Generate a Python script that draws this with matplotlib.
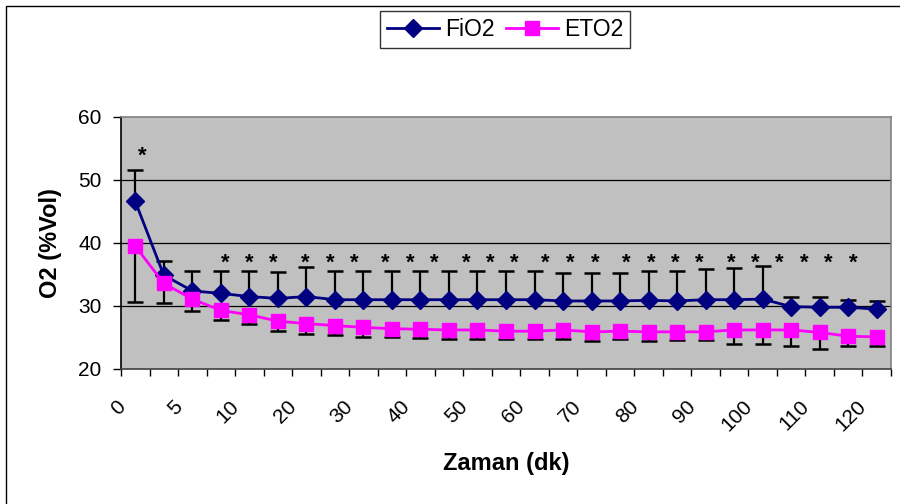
import matplotlib
matplotlib.use("Agg")
import matplotlib.pyplot as plt
from matplotlib.patches import Rectangle
import numpy as np

plt.rcParams['font.family'] = ['Liberation Sans', 'DejaVu Sans']

# x categories (minutes); only every second one gets a label in the chart
times = ["0", "2", "5", "7", "10", "15", "20", "25", "30", "35", "40", "45", "50", "55",
         "60", "65", "70", "75", "80", "85", "90", "95", "100", "105", "110", "115", "120"]

# FiO2 mean and SD (SD drawn upward only)
fio2 = [46.6, 34.9, 32.4, 32.0, 31.5, 31.2, 31.5, 31.0, 31.0, 31.0, 31.0, 31.0, 31.0, 31.0,
        31.0, 30.8, 30.8, 30.8, 30.9, 30.8, 31.0, 31.0, 31.1, 29.9, 29.8, 29.8, 29.5]
fio2_sd = [5.0, 2.3, 3.2, 3.6, 4.0, 4.2, 4.7, 4.5, 4.5, 4.5, 4.6, 4.6, 4.5, 4.6,
           4.6, 4.4, 4.5, 4.5, 4.7, 4.8, 4.8, 5.1, 5.2, 1.6, 1.6, 1.2, 1.3]

# ETO2 mean and SD (SD drawn downward only)
eto2 = [39.5, 33.6, 31.1, 29.3, 28.6, 27.6, 27.2, 26.9, 26.6, 26.4, 26.3, 26.2, 26.2, 26.0,
        26.0, 26.2, 25.9, 26.0, 25.9, 25.9, 25.9, 26.2, 26.2, 26.2, 25.8, 25.2, 25.1]
eto2_sd = [8.9, 3.2, 1.9, 1.6, 1.5, 1.5, 1.7, 1.5, 1.5, 1.4, 1.4, 1.5, 1.5, 1.3,
           1.3, 1.5, 1.4, 1.3, 1.4, 1.3, 1.3, 2.3, 2.3, 2.6, 2.7, 1.5, 1.4]

# significance marks (typed text boxes in the original, not aligned to categories)
star_x = [0.23, 3.15, 3.99, 4.83, 5.96, 6.83, 7.68, 8.76, 9.64, 10.48, 11.61, 12.45, 13.29,
          14.38, 15.25, 16.13, 17.22, 18.1, 18.94, 19.78, 20.9, 21.75, 22.6, 23.46, 24.3, 25.18]
star_y = [54.7] + [37.7] * 25

x = np.arange(len(times))
fio2 = np.array(fio2)
eto2 = np.array(eto2)

fig = plt.figure(figsize=(9, 5.04), dpi=100)
ax = fig.add_axes([121/900, 1 - 369/504, 770/900, 252/504])
ax.set_facecolor('#C0C0C0')

# outer chart border (left and top visible)
fig.patches.append(Rectangle((5.5/900, -0.2), 1.5, 1.2 - 5.5/504, transform=fig.transFigure,
                             fill=False, edgecolor='black', linewidth=1.0))

for v in [30, 40, 50]:
    ax.axhline(v, color='black', linewidth=0.9, zorder=1)

# error bars
top = fio2 + np.array(fio2_sd)
bot = eto2 - np.array(eto2_sd)
ax.vlines(x, fio2, top, color='black', linewidth=1.6, zorder=2)
ax.plot(x, top, linestyle='none', marker='_', markersize=11, markeredgewidth=1.8, color='black', zorder=2)
ax.vlines(x, bot, eto2, color='black', linewidth=1.6, zorder=2)
ax.plot(x, bot, linestyle='none', marker='_', markersize=11, markeredgewidth=1.8, color='black', zorder=2)

l1, = ax.plot(x, fio2, color='#000080', linewidth=2, marker='D', markersize=9.5,
              markeredgecolor='#000080', label='FiO2', zorder=3)
l2, = ax.plot(x, eto2, color='#FF00FF', linewidth=2, marker='s', markersize=10,
              markeredgecolor='#FF00FF', label='ETO2', zorder=4)

for sx, sy in zip(star_x, star_y):
    ax.text(sx, sy - 1.8, '*', ha='center', va='baseline', fontsize=16, fontweight='bold', zorder=5)

ax.set_xlim(-0.5, len(times) - 0.5)
ax.set_ylim(20, 60)
ax.set_yticks([20, 30, 40, 50, 60])
ax.tick_params(axis='y', labelsize=15, length=6, width=1, pad=8)

# category ticks between categories, labels on every second category
ax.set_xticks(np.arange(len(times) + 1) - 0.5)
ax.set_xticklabels([])
ax.tick_params(axis='x', which='major', length=5, width=1)
ax.set_xticks(x[::2] - 0.46, minor=True)
ax.set_xticklabels(times[::2], minor=True)
ax.tick_params(axis='x', which='minor', length=0, pad=25, labelsize=15)
for lab in ax.get_xticklabels(minor=True):
    lab.set_rotation(45)
    lab.set_ha('right')
    lab.set_va('center')
    lab.set_rotation_mode('anchor')

for s in ax.spines.values():
    s.set_color('#808080')
    s.set_linewidth(1.2)
ax.spines['left'].set_color('black')
ax.spines['bottom'].set_color('#404040')

ax.set_xlabel('Zaman (dk)', fontsize=17, fontweight='bold', va='center')
ax.xaxis.set_label_coords(0.5, (369 - 464) / 252)
ax.set_ylabel('O2 (%Vol)', fontsize=17, fontweight='bold', va='center')
ax.yaxis.set_label_coords((51 - 121) / 770, 0.5)

leg = fig.legend(handles=[l1, l2], loc='center', bbox_to_anchor=(505/900, 1 - 29.5/504),
                 ncol=2, fontsize=16.5, frameon=True, fancybox=False, shadow=False,
                 handlelength=2.27, handletextpad=0.26, columnspacing=0.52, borderpad=0.3)
leg.get_frame().set_edgecolor('black')
leg.get_frame().set_linewidth(1.0)

fig.savefig('out.png', dpi=100)
